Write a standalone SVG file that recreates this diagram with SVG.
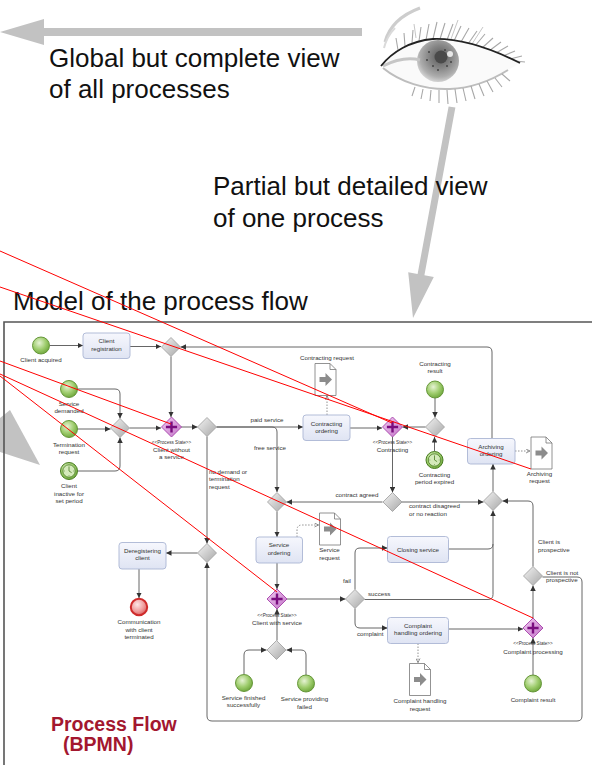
<svg xmlns="http://www.w3.org/2000/svg" width="592" height="765" viewBox="0 0 592 765">
<style>
.big{font-family:"Liberation Sans",Arial,sans-serif;font-size:26px;fill:#111}
.t{font-family:"Liberation Sans",Arial,sans-serif;font-size:6.2px;fill:#333;text-anchor:middle}
.tl{text-anchor:start}
.ps{font-size:4.6px}
.title{font-family:"Liberation Sans",Arial,sans-serif;font-weight:bold;font-size:19.5px;fill:#a3172f}
.task{fill:url(#gTask);stroke:#aab6d4;stroke-width:0.9}
.c{fill:none;stroke:#666;stroke-width:1;marker-end:url(#arr)}
.cn{fill:none;stroke:#666;stroke-width:1}
.d{fill:none;stroke:#777;stroke-width:0.8;stroke-dasharray:1.5 1.5;marker-end:url(#oarr)}
.r{fill:none;stroke:#f00;stroke-width:1}
.lash{fill:none;stroke:#a8a8a8;stroke-width:1.1}
.gray{fill:#c2c2c2}
</style>
<defs>
<linearGradient id="gTask" x1="0" y1="0" x2="0" y2="1"><stop offset="0" stop-color="#f6f7fd"/><stop offset="1" stop-color="#dfe4f3"/></linearGradient>
<linearGradient id="gGw" x1="0" y1="0" x2="1" y2="1"><stop offset="0" stop-color="#f4f4f4"/><stop offset="1" stop-color="#a6a6a6"/></linearGradient>
<linearGradient id="gPs" x1="0" y1="0" x2="1" y2="1"><stop offset="0" stop-color="#f2cdf2"/><stop offset="1" stop-color="#c171c6"/></linearGradient>
<radialGradient id="gStart" cx="0.4" cy="0.35" r="0.7"><stop offset="0" stop-color="#e6f3d4"/><stop offset="0.55" stop-color="#9fcd6e"/><stop offset="1" stop-color="#6aa337"/></radialGradient>
<radialGradient id="gEnd" cx="0.4" cy="0.35" r="0.7"><stop offset="0" stop-color="#fde6e6"/><stop offset="0.6" stop-color="#ef9a9a"/><stop offset="1" stop-color="#d75a5a"/></radialGradient>
<radialGradient id="gIris" cx="0.55" cy="0.4" r="0.6"><stop offset="0" stop-color="#5a5a5a"/><stop offset="0.45" stop-color="#868686"/><stop offset="0.8" stop-color="#adadad"/><stop offset="1" stop-color="#d2d2d2"/></radialGradient>
<clipPath id="eyeOpen"><path d="M381,66 C392,52 410,41 433,39 C460,38 490,48 520,63 C505,72 485,84 450,89 C425,90 400,82 381,66Z"/></clipPath>
<marker id="arr" viewBox="0 0 10 10" refX="10" refY="5" markerWidth="5.5" markerHeight="5.5" markerUnits="userSpaceOnUse" orient="auto"><path d="M0,0 L10,5 L0,10Z" fill="#333"/></marker>
<marker id="oarr" viewBox="0 0 10 10" refX="9" refY="5" markerWidth="5" markerHeight="5" markerUnits="userSpaceOnUse" orient="auto"><path d="M1,1 L9,5 L1,9" fill="none" stroke="#666" stroke-width="1.4"/></marker>
<circle id="evS" r="8.5" fill="url(#gStart)" stroke="#5b8f2e" stroke-width="0.9"/>
<g id="evT">
<circle r="8.5" fill="url(#gStart)" stroke="#4a7d23" stroke-width="1"/>
<circle r="6.2" fill="#d5eabb" stroke="#4a7d23" stroke-width="0.8"/>
<path d="M0,-5.2V-4.2M0,5.2V4.2M-5.2,0H-4.2M5.2,0H4.2" stroke="#4a7d23" stroke-width="0.6"/>
<path d="M0,-4 V0 L2.6,1.6" fill="none" stroke="#4a7d23" stroke-width="0.8"/>
</g>
<path id="gwD" d="M0,-9.5 L9.5,0 L0,9.5 L-9.5,0Z" fill="url(#gGw)" stroke="#9c9c9c" stroke-width="0.8"/>
<g id="psD">
<path d="M0,-10 L10,0 L0,10 L-10,0Z" fill="url(#gPs)" stroke="#a53fa9" stroke-width="0.9"/>
<path d="M0,-5.6V5.6M-5.6,0H5.6" stroke="#7a0d7f" stroke-width="2.4"/>
</g>
<g id="doc">
<path d="M0,0 H15 L21,6 V32 H0Z" fill="#fff" stroke="#777" stroke-width="0.8"/>
<path d="M15,0 V6 H21" fill="none" stroke="#777" stroke-width="0.8"/>
<path d="M4.5,13.5 H10.5 V9.5 L17,16 L10.5,22.5 V18.5 H4.5Z" fill="#8c8c8c"/>
</g>
</defs>

<rect width="592" height="765" fill="#fff"/>

<!-- overview arrows -->
<g id="arrow-global">
<polygon class="gray" points="362,28 362,36 44,36 44,45 0,32 44,19 44,28"/>
</g>
<g id="arrow-detail">
<polygon class="gray" points="448.6,106.4 455.4,107.6 424.4,275.3 433.8,277.1 413,318 408.2,272.3 417.6,274.1"/>
</g>
<g id="arrow-into-model">
<polygon class="gray" points="10,410 40,465 0,452 0,418"/>
</g>

<!-- eye sketch -->
<g id="eye">
<path d="M385,42 C389,27 401,15 420,8" fill="none" stroke="#cdcdcd" stroke-width="3"/>
<path d="M384,48 C386,40 390,33 395,28" fill="none" stroke="#dadada" stroke-width="2"/>
<path class="lash" d="M398,50 L396,38 M405,46 L404,33 M412,43 L413,30 M419,41 L421,27 M426,40 L429,24 M433,39 L437,22 M440,39 L445,23 M447,40 L453,24 M454,41 L461,26 M461,42 L469,28 M468,44 L477,31 M475,46 L485,34 M482,48 L493,38 M489,51 L501,42 M496,53 L508,46 M503,56 L515,51 M510,59 L522,56 M515,61 L525,62"/>
<path d="M416,38 L414,24 M451,39 L458,20 M472,44 L483,27" fill="none" stroke="#c0c0c0" stroke-width="0.9"/>
<path d="M381,66 C392,52 410,41 433,39 C460,38 490,48 520,63 C505,72 485,84 450,89 C425,90 400,82 381,66Z" fill="#fafafa"/>
<g clip-path="url(#eyeOpen)">
<circle cx="438" cy="61" r="21" fill="url(#gIris)"/>
<circle cx="441" cy="57" r="6.5" fill="#4a4a4a"/>
<path d="M428,52 h2 M432,66 h2 M446,66 h2 M426,60 h2 M450,62 h2 M437,70 h2 M444,50 h2" stroke="#444" stroke-width="1.5"/>
<circle cx="450" cy="54" r="3" fill="#fff" opacity="0.8"/>
<path d="M383,66 C395,60 408,57 420,60" fill="none" stroke="#c6c6c6" stroke-width="3"/>
</g>
<path d="M381,66 C392,52 410,41 433,39 C460,38 490,48 520,63" fill="none" stroke="#222" stroke-width="1.8"/>
<path d="M383,68 C400,82 425,90 450,89 C472,88 492,80 508,70" fill="none" stroke="#bdbdbd" stroke-width="2"/>
<path class="lash" d="M415,87 L412,96 M423,89 L421,99 M431,90 L430,101 M439,90 L439,103 M447,90 L448,104 M455,89 L457,103 M463,88 L466,101 M471,86 L475,99 M479,84 L484,96 M487,81 L493,92 M495,78 L502,87 M502,74 L510,81"/>
</g>

<!-- headings -->
<text class="big" x="49" y="67">Global but complete view</text>
<text class="big" x="49" y="98">of all processes</text>
<text class="big" x="213" y="195">Partial but detailed view</text>
<text class="big" x="213" y="227">of one process</text>
<text class="big" x="13" y="310">Model of the process flow</text>

<!-- frame of the process model -->
<path id="frame" d="M4,765 V322 H592" fill="none" stroke="#555" stroke-width="1.6"/>

<!-- sequence flows and data associations -->
<g id="connectors">
<path class="c" d="M49.5,345.5 H83"/>
<path class="c" d="M130,346.5 H161"/>
<path class="c" d="M171,356.5 V417"/>
<path class="c" d="M77.5,389 H115 Q120,389 120,394 V418.5"/>
<path class="c" d="M77.5,429 H110.5"/>
<path class="c" d="M77.5,471 H115 Q120,471 120,466 V437.5"/>
<path class="c" d="M129.5,428 H161"/>
<path class="c" d="M181,427 H197.5"/>
<path class="c" d="M216.5,427 H303"/>
<path class="c" d="M216.5,427 H272 Q277,427 277,432 V492"/>
<path class="c" d="M207,436.5 V543.5"/>
<path class="c" d="M197.5,553 H166"/>
<path class="c" d="M139,569 V598"/>
<path class="c" d="M350,428 H382"/>
<path class="c" d="M435,398 V417.5"/>
<path class="c" d="M434.5,451.5 V437"/>
<path class="c" d="M425.5,427 H402.5"/>
<path class="c" d="M392.5,437 V492.5"/>
<path class="c" d="M382.5,502 H286.5"/>
<path class="c" d="M401.5,502 H483.5"/>
<path class="c" d="M493,491.5 V464"/>
<path class="c" d="M492,438 V352 Q492,347 487,347 H180.5"/>
<path class="c" d="M277,511.5 V537"/>
<path class="c" d="M277,563 V589"/>
<path class="c" d="M286.5,599 H345.5"/>
<path class="c" d="M355,589.5 V553 Q355,548 360,548 H387.5"/>
<path class="c" d="M364.5,599.5 H488 Q493,599.5 493,594.5 V510.5"/>
<path class="cn" d="M448.5,549 H488 Q493,549 493,544"/>
<path class="c" d="M355,608.5 V623 Q355,628 360,628 H387.5"/>
<path class="c" d="M448.5,629 H523"/>
<path class="c" d="M533,675 V638"/>
<path class="c" d="M533,618 V585.5"/>
<path class="c" d="M533,566.5 V506 Q533,501 528,501 H502.5"/>
<path class="c" d="M542.5,577 H577 Q582,577 582,582 V716 Q582,721 577,721 H212 Q207,721 207,716 V562.5"/>
<path class="c" d="M244,674 V655 Q244,650 249,650 H266.5"/>
<path class="c" d="M306,675 V655 Q306,650 301,650 H286.5"/>
<path class="c" d="M277,640.5 V609"/>
<path class="d" d="M327,415 V396"/>
<path class="d" d="M297,537 V530 Q297,525 302,525 H318.5"/>
<path class="d" d="M515,451 H530"/>
<path class="d" d="M418,643.5 V662.5"/>
</g>

<!-- flow labels -->
<g id="flow-labels">
<text class="t" x="267" y="422.2">paid service</text>
<text class="t" x="270" y="450.2">free service</text>
<text class="t tl" x="209" y="473.9">no demand or</text>
<text class="t tl" x="209" y="481.2">termination</text>
<text class="t tl" x="209" y="488.9">request</text>
<text class="t" x="357" y="496.5">contract agreed</text>
<text class="t tl" x="409" y="508.2">contract disagreed</text>
<text class="t tl" x="409" y="515.5">or no reaction</text>
<text class="t" x="347" y="583.2">fail</text>
<text class="t tl" x="368" y="595.5">success</text>
<text class="t tl" x="357" y="635.5">complaint</text>
<text class="t tl" x="538" y="543.9">Client is</text>
<text class="t tl" x="538" y="551.5">prospective</text>
<text class="t tl" x="546" y="574.5">Client is not</text>
<text class="t tl" x="546" y="582.2">prospective</text>
</g>

<!-- events -->
<g id="ev-client-acquired"><use href="#evS" x="41" y="345.5"/><text class="t" x="41" y="362.2">Client acquired</text></g>
<g id="ev-service-demanded"><use href="#evS" x="69" y="389"/><text class="t" x="69" y="405.5">Service</text><text class="t" x="69" y="412.9">demanded</text></g>
<g id="ev-termination-request"><use href="#evS" x="69" y="429"/><text class="t" x="69" y="447.2">Termination</text><text class="t" x="69" y="454.2">request</text></g>
<g id="ev-client-inactive"><use href="#evT" x="69" y="471"/><text class="t" x="69" y="487.9">Client</text><text class="t" x="69" y="495.5">inactive for</text><text class="t" x="69" y="503.2">set period</text></g>
<g id="ev-contracting-result"><use href="#evS" x="435" y="389.5"/><text class="t" x="435" y="365.5">Contracting</text><text class="t" x="435" y="373.2">result</text></g>
<g id="ev-contracting-expired"><use href="#evT" x="434.5" y="460"/><text class="t" x="434.5" y="476.5">Contracting</text><text class="t" x="434.5" y="483.9">period expired</text></g>
<g id="ev-communication-terminated"><circle cx="139" cy="607" r="8.2" fill="url(#gEnd)" stroke="#cf2b2b" stroke-width="2"/><text class="t" x="139" y="624.2">Communication</text><text class="t" x="139" y="631.5">with client</text><text class="t" x="139" y="639.2">terminated</text></g>
<g id="ev-service-finished"><use href="#evS" x="244" y="683"/><text class="t" x="243.5" y="699.9">Service finished</text><text class="t" x="243.5" y="707.2">successfully</text></g>
<g id="ev-service-failed"><use href="#evS" x="306" y="683.5"/><text class="t" x="304.5" y="701.2">Service providing</text><text class="t" x="304.5" y="708.5">failed</text></g>
<g id="ev-complaint-result"><use href="#evS" x="533" y="683.5"/><text class="t" x="533" y="701.5">Complaint result</text></g>

<!-- tasks -->
<g id="task-client-registration"><rect class="task" x="83" y="333" width="47" height="25.5" rx="3"/><text class="t" x="106.5" y="343">Client</text><text class="t" x="106.5" y="350.5">registration</text></g>
<g id="task-contracting-ordering"><rect class="task" x="303" y="415" width="47" height="25.5" rx="3"/><text class="t" x="326.5" y="425.5">Contracting</text><text class="t" x="326.5" y="432.5">ordering</text></g>
<g id="task-archiving-ordering"><rect class="task" x="467.5" y="438.5" width="47.5" height="25.5" rx="3"/><text class="t" x="491" y="448.9">Archiving</text><text class="t" x="491" y="456.2">ordering</text></g>
<g id="task-deregistering-client"><rect class="task" x="119" y="542.5" width="47" height="26.5" rx="3"/><text class="t" x="142.5" y="552.9">Deregistering</text><text class="t" x="142.5" y="559.9">client</text></g>
<g id="task-service-ordering"><rect class="task" x="256" y="537" width="46.5" height="26" rx="3"/><text class="t" x="279" y="546.5">Service</text><text class="t" x="279" y="554.5">ordering</text></g>
<g id="task-closing-service"><rect class="task" x="387.5" y="536.5" width="61" height="26" rx="3"/><text class="t" x="418" y="551.5">Closing service</text></g>
<g id="task-complaint-handling"><rect class="task" x="387.5" y="617.5" width="61" height="26" rx="3"/><text class="t" x="418" y="627.5">Complaint</text><text class="t" x="418" y="634.9">handling ordering</text></g>

<!-- gateways -->
<g id="gw-registration"><use href="#gwD" x="171" y="347"/></g>
<g id="gw-request-merge"><use href="#gwD" x="120" y="428"/></g>
<g id="gw-demand-split"><use href="#gwD" x="207" y="427"/></g>
<g id="gw-service-merge"><use href="#gwD" x="277" y="502"/></g>
<g id="gw-deregistering"><use href="#gwD" x="207" y="553"/></g>
<g id="gw-contracting-result"><use href="#gwD" x="435" y="427"/></g>
<g id="gw-contract-split"><use href="#gwD" x="392.5" y="502"/></g>
<g id="gw-archiving-merge"><use href="#gwD" x="493" y="501"/></g>
<g id="gw-service-result"><use href="#gwD" x="355" y="599"/></g>
<g id="gw-service-end-merge"><use href="#gwD" x="276.5" y="650"/></g>
<g id="gw-prospective"><use href="#gwD" x="533" y="576"/></g>

<!-- process states -->
<g id="ps-client-without-service"><use href="#psD" x="171.5" y="427"/><text class="t ps" x="171.5" y="443.6">&lt;&lt;Process State&gt;&gt;</text><text class="t" x="171.5" y="451.9">Client without</text><text class="t" x="171.5" y="459.2">a service</text></g>
<g id="ps-contracting"><use href="#psD" x="392.5" y="427"/><text class="t ps" x="392.5" y="443.9">&lt;&lt;Process State&gt;&gt;</text><text class="t" x="392.5" y="452.2">Contracting</text></g>
<g id="ps-client-with-service"><use href="#psD" x="277" y="599"/><text class="t ps" x="277" y="616.9">&lt;&lt;Process State&gt;&gt;</text><text class="t" x="277" y="625.2">Client with service</text></g>
<g id="ps-complaint-processing"><use href="#psD" x="533" y="628"/><text class="t ps" x="533" y="644.9">&lt;&lt;Process State&gt;&gt;</text><text class="t" x="533" y="653.9">Complaint processing</text></g>

<!-- data objects -->
<g id="doc-contracting-request"><use href="#doc" x="315" y="363.5"/><text class="t" x="327" y="359.9">Contracting request</text></g>
<g id="doc-service-request"><use href="#doc" x="319.5" y="513"/><text class="t" x="329.5" y="552.2">Service</text><text class="t" x="329.5" y="559.5">request</text></g>
<g id="doc-archiving-request"><use href="#doc" x="531" y="437"/><text class="t" x="539.5" y="475.5">Archiving</text><text class="t" x="539.5" y="482.9">request</text></g>
<g id="doc-complaint-request"><use href="#doc" x="409.5" y="663.5"/><text class="t" x="420" y="702.9">Complaint handling</text><text class="t" x="420" y="710.5">request</text></g>

<!-- caption -->
<text class="title" x="51" y="731">Process Flow</text>
<text class="title" x="63" y="751">(BPMN)</text>

<!-- mapping lines from the overview -->
<g id="mapping-lines">
<path class="r" d="M0,251 L392,423"/>
<path class="r" d="M0,287 L531,469"/>
<path class="r" d="M0,361 L171,424"/>
<path class="r" d="M0,374 L533,618"/>
<path class="r" d="M0,376 L277,592"/>
</g>
</svg>
